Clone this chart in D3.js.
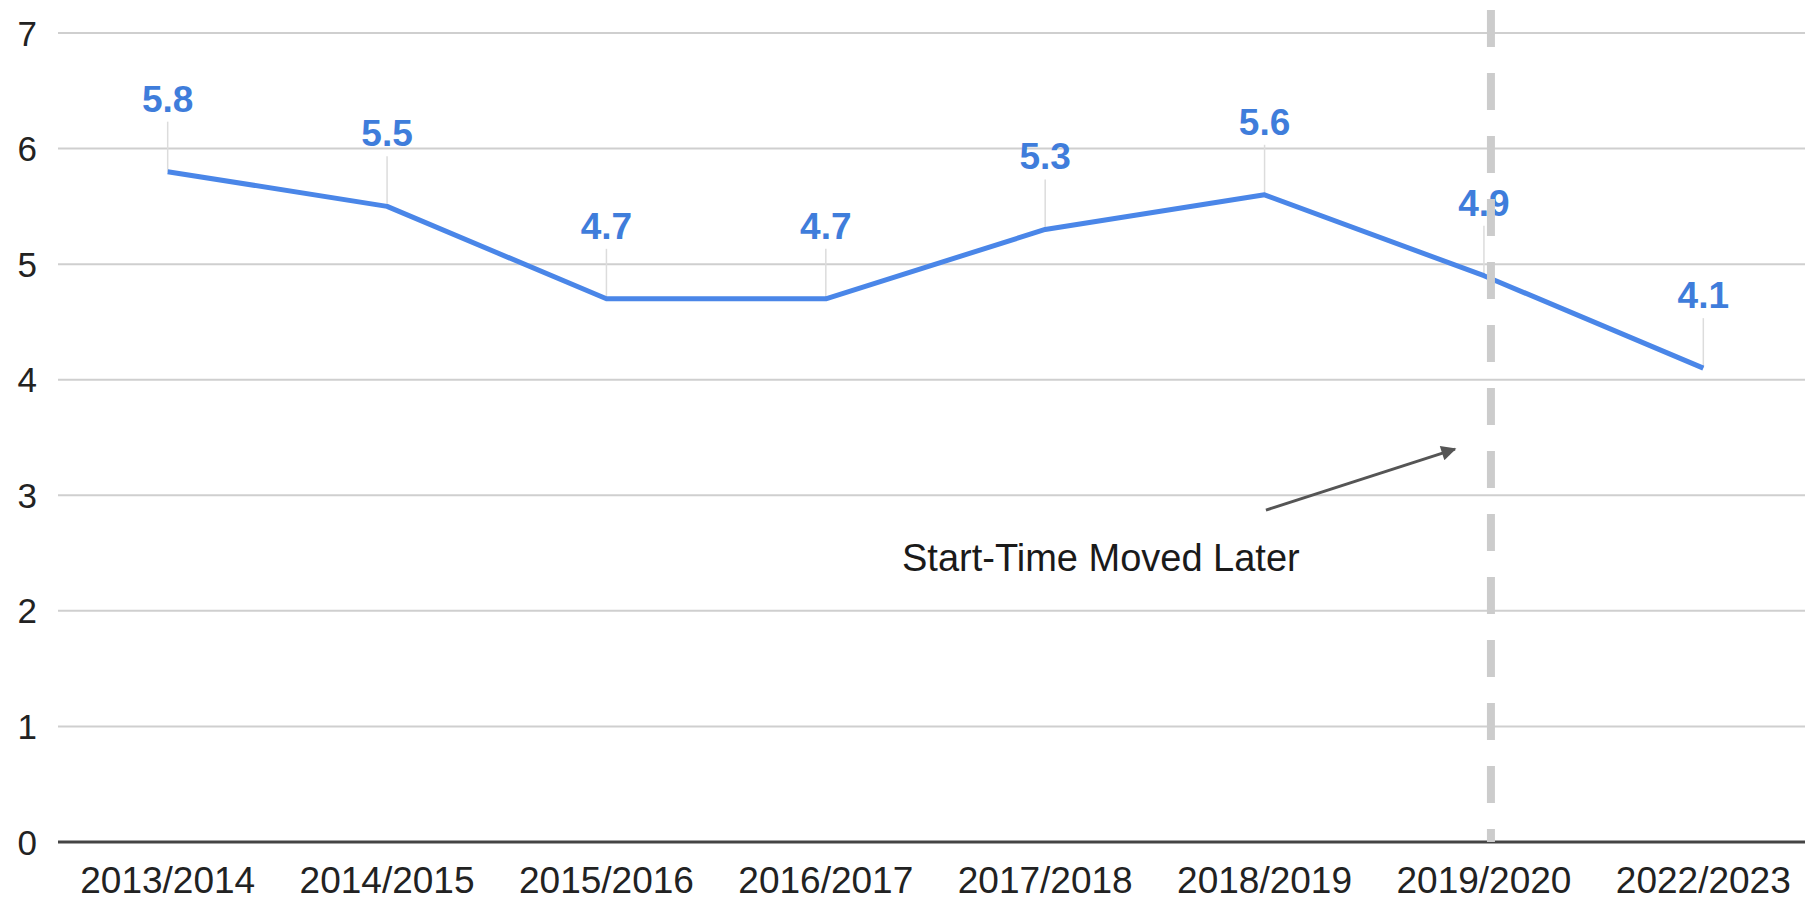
<!DOCTYPE html>
<html>
<head>
<meta charset="utf-8">
<script src="https://cdn.jsdelivr.net/npm/d3@7"></script>
<style>
  body { margin: 0; background: #fff; }
  text { font-family: "Liberation Sans", Arial, sans-serif; }
</style>
</head>
<body>
<div id="chart"></div>
<script>
// data
const seasons = ["2013/2014", "2014/2015", "2015/2016", "2016/2017",
                 "2017/2018", "2018/2019", "2019/2020", "2022/2023"];
const values = [5.8, 5.5, 4.7, 4.7, 5.3, 5.6, 4.9, 4.1];
const yTicks = [0, 1, 2, 3, 4, 5, 6, 7];
const markerSeason = "2019/2020";
const noteText = "Start-Time Moved Later";

const width = 1805;
const height = 902;

const svg = d3.select("#chart")
  .append("svg")
  .attr("width", width)
  .attr("height", height);

const x = d3.scalePoint()
  .domain(seasons)
  .range([58, 1813])
  .padding(0.5);

const y = d3.scaleLinear()
  .domain([0, 7])
  .range([842, 33]);

// gridlines
svg.append("g")
  .selectAll("line")
  .data(yTicks.filter(d => d > 0))
  .join("line")
  .attr("x1", 58)
  .attr("x2", width)
  .attr("y1", d => y(d))
  .attr("y2", d => y(d))
  .attr("stroke", "#cfcfcf")
  .attr("stroke-width", 2);

// baseline
svg.append("line")
  .attr("x1", 58)
  .attr("x2", width)
  .attr("y1", y(0))
  .attr("y2", y(0))
  .attr("stroke", "#444")
  .attr("stroke-width", 3);

// y tick labels
svg.append("g")
  .selectAll("text")
  .data(yTicks)
  .join("text")
  .attr("x", 37)
  .attr("y", d => y(d))
  .attr("dy", "0.36em")
  .attr("text-anchor", "end")
  .attr("font-size", 35)
  .attr("fill", "#222")
  .text(d => d);

// x tick labels
svg.append("g")
  .selectAll("text")
  .data(seasons)
  .join("text")
  .attr("x", d => x(d))
  .attr("y", 893)
  .attr("text-anchor", "middle")
  .attr("font-size", 37)
  .attr("fill", "#222")
  .text(d => d);

const pts = seasons.map((s, i) => ({ season: s, value: values[i] }));

// leader lines from point to label
svg.append("g")
  .selectAll("line")
  .data(pts)
  .join("line")
  .attr("x1", d => x(d.season))
  .attr("x2", d => x(d.season))
  .attr("y1", d => y(d.value) - 50)
  .attr("y2", d => y(d.value))
  .attr("stroke", "#dcdcdc")
  .attr("stroke-width", 1.5);

// value labels
svg.append("g")
  .selectAll("text")
  .data(pts)
  .join("text")
  .attr("x", d => x(d.season))
  .attr("y", d => y(d.value) - 60)
  .attr("text-anchor", "middle")
  .attr("font-size", 37)
  .attr("font-weight", "bold")
  .attr("fill", "#3f7ddb")
  .text(d => d.value.toFixed(1));

// the series line
const line = d3.line()
  .x(d => x(d.season))
  .y(d => y(d.value));

svg.append("path")
  .datum(pts)
  .attr("d", line)
  .attr("fill", "none")
  .attr("stroke", "#4a86e8")
  .attr("stroke-width", 5)
  .attr("stroke-linejoin", "round");

// dashed marker for the start-time change
const markX = x(markerSeason) + 7;
svg.append("line")
  .attr("x1", markX)
  .attr("x2", markX)
  .attr("y1", 10)
  .attr("y2", y(0))
  .attr("stroke", "#cccccc")
  .attr("stroke-width", 8)
  .attr("stroke-dasharray", "37,26");

// annotation arrow + text
svg.append("defs").append("marker")
  .attr("id", "head")
  .attr("viewBox", "0 0 10 10")
  .attr("refX", 9)
  .attr("refY", 5)
  .attr("markerWidth", 6)
  .attr("markerHeight", 5)
  .attr("orient", "auto")
  .append("path")
  .attr("d", "M0,0L10,5L0,10z")
  .attr("fill", "#555");

const tipX = markX - 36, tipY = y(3.4);
svg.append("line")
  .attr("x1", tipX - 189)
  .attr("y1", tipY + 61)
  .attr("x2", tipX)
  .attr("y2", tipY)
  .attr("stroke", "#555")
  .attr("stroke-width", 3)
  .attr("marker-end", "url(#head)");

svg.append("text")
  .attr("x", 902)
  .attr("y", 571)
  .attr("font-size", 38)
  .attr("fill", "#1a1a1a")
  .text(noteText);
</script>
</body>
</html>
